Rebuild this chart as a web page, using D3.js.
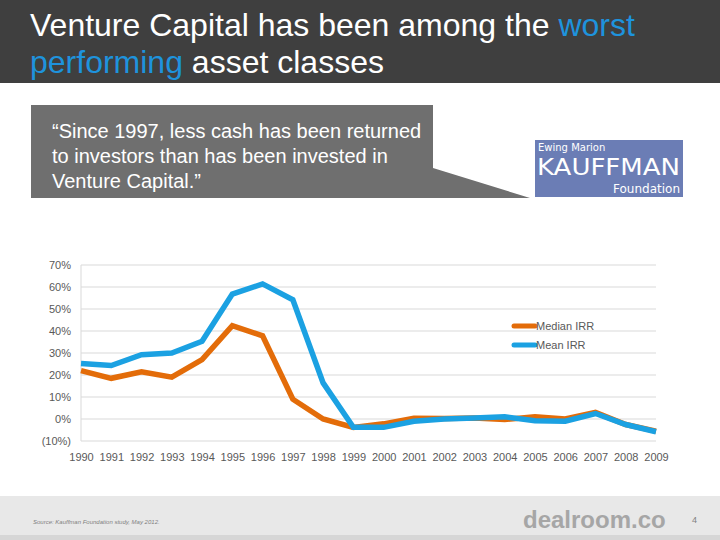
<!DOCTYPE html>
<html><head><meta charset="utf-8">
<script src="https://cdn.jsdelivr.net/npm/d3@7"></script>
<style>body{margin:0;background:#fff}svg{display:block;font-family:"Liberation Sans",Arial,sans-serif}</style>
</head><body><svg id="c" width="720" height="540"></svg>
<script>
const years = ["1990","1991","1992","1993","1994","1995","1996","1997","1998","1999","2000","2001","2002","2003","2004","2005","2006","2007","2008","2009"];
const medianIRR = [22,18.5,21.5,19,27,42.4,37.8,9,0,-3.8,-2.2,0.3,0.2,0.5,-0.2,1,0,3,-2.5,-5.5];
const meanIRR = [25.2,24.3,29.2,30,35.3,56.8,61.4,54.2,16.4,-3.8,-3.8,-1,0,0.5,1,-0.8,-1,2.5,-2.5,-5.8];
const yTicks = [-10,0,10,20,30,40,50,60,70];
const seriesNames = ["Median IRR","Mean IRR"];
const seriesColors = ["#e36c09","#1ba1e2"];

const svg = d3.select("#c");
// title bar
svg.append("rect").attr("x",0).attr("y",0).attr("width",720).attr("height",83).attr("fill","#3f3f3f");
const t1 = svg.append("text").attr("x",30).attr("y",36).attr("font-size",32).attr("fill","#fff");
t1.append("tspan").text("Venture Capital has been among the ");
t1.append("tspan").attr("fill","#1e93dd").text("worst");
const t2 = svg.append("text").attr("x",30).attr("y",73).attr("font-size",32).attr("fill","#fff");
t2.append("tspan").attr("fill","#1e93dd").text("performing");
t2.append("tspan").text(" asset classes");

// quote box
svg.append("path").attr("d","M31,105H433V168L530,198H31Z").attr("fill","#6f6f6f");
const q = ["\u201CSince 1997, less cash has been returned","to investors than has been invested in","Venture Capital.\u201D"];
q.forEach((s,i)=>svg.append("text").attr("x",52).attr("y",138+i*25).attr("font-size",20).attr("fill","#fff").text(s));

// logo
svg.append("rect").attr("x",535).attr("y",140).attr("width",148).attr("height",57).attr("fill","#6b7db5");
svg.append("text").attr("x",538).attr("y",151).attr("font-size",10).attr("fill","#fff").attr("font-family","DejaVu Sans").text("Ewing Marion");
svg.append("text").attr("x",537).attr("y",175).attr("font-size",23).attr("fill","#fff").attr("font-family","DejaVu Sans").attr("textLength",143).attr("lengthAdjust","spacingAndGlyphs").text("KAUFFMAN");
svg.append("text").attr("x",680).attr("y",193).attr("font-size",12).attr("fill","#fff").attr("text-anchor","end").attr("font-family","DejaVu Sans").text("Foundation");

// chart
const x = d3.scalePoint().domain(years).range([81,656]);
const y = d3.scaleLinear().domain([-10,70]).range([441,265]);
const g = svg.append("g");
g.selectAll("line.grid").data(yTicks).join("line").attr("class","grid")
  .attr("x1",81).attr("x2",656).attr("y1",d=>y(d)).attr("y2",d=>y(d))
  .attr("stroke","#d9d9d9").attr("stroke-width",1);
g.append("line").attr("x1",81).attr("x2",81).attr("y1",265).attr("y2",441).attr("stroke","#d9d9d9");
const fmt = d => d<0 ? "("+(-d)+"%)" : d+"%";
const ya = d3.axisLeft(y).tickValues(yTicks).tickFormat(fmt).tickSize(0).tickPadding(10);
g.append("g").attr("transform","translate(81,0)").call(ya).call(a=>a.select(".domain").remove())
  .selectAll("text").attr("font-size",11).attr("fill","#595959").attr("font-family","Liberation Sans, Arial");
const xa = d3.axisBottom(x).tickSize(0).tickPadding(8);
g.append("g").attr("transform","translate(0,445)").call(xa).call(a=>a.select(".domain").remove())
  .selectAll("text").attr("font-size",11).attr("fill","#595959").attr("font-family","Liberation Sans, Arial");

const line = d3.line().x((d,i)=>x(years[i])).y(d=>y(d));
[medianIRR, meanIRR].forEach((s,i)=>{
  g.append("path").datum(s).attr("d",line).attr("fill","none").attr("stroke",seriesColors[i])
   .attr("stroke-width",5.5).attr("stroke-linejoin","miter");
});
// legend
seriesNames.forEach((n,i)=>{
  const ly = 326 + i*19;
  g.append("line").attr("x1",514).attr("x2",535).attr("y1",ly).attr("y2",ly).attr("stroke",seriesColors[i]).attr("stroke-width",5).attr("stroke-linecap","round");
  g.append("text").attr("x",536).attr("y",ly+4).attr("font-size",11).attr("fill","#595959").text(n);
});

// footer
svg.append("rect").attr("x",0).attr("y",496).attr("width",720).attr("height",44).attr("fill","#e8e8e8");
svg.append("rect").attr("x",0).attr("y",535).attr("width",720).attr("height",5).attr("fill","#d6d6d6");
svg.append("text").attr("x",33).attr("y",524).attr("font-size",6).attr("font-style","italic").attr("fill","#808080").text("Source: Kauffman Foundation study, May 2012.");
svg.append("text").attr("x",523).attr("y",528).attr("font-size",24).attr("font-weight","bold").attr("fill","#a6a6a6").text("dealroom.co");
svg.append("text").attr("x",692).attr("y",523).attr("font-size",9).attr("fill","#808080").text("4");
</script></body></html>
